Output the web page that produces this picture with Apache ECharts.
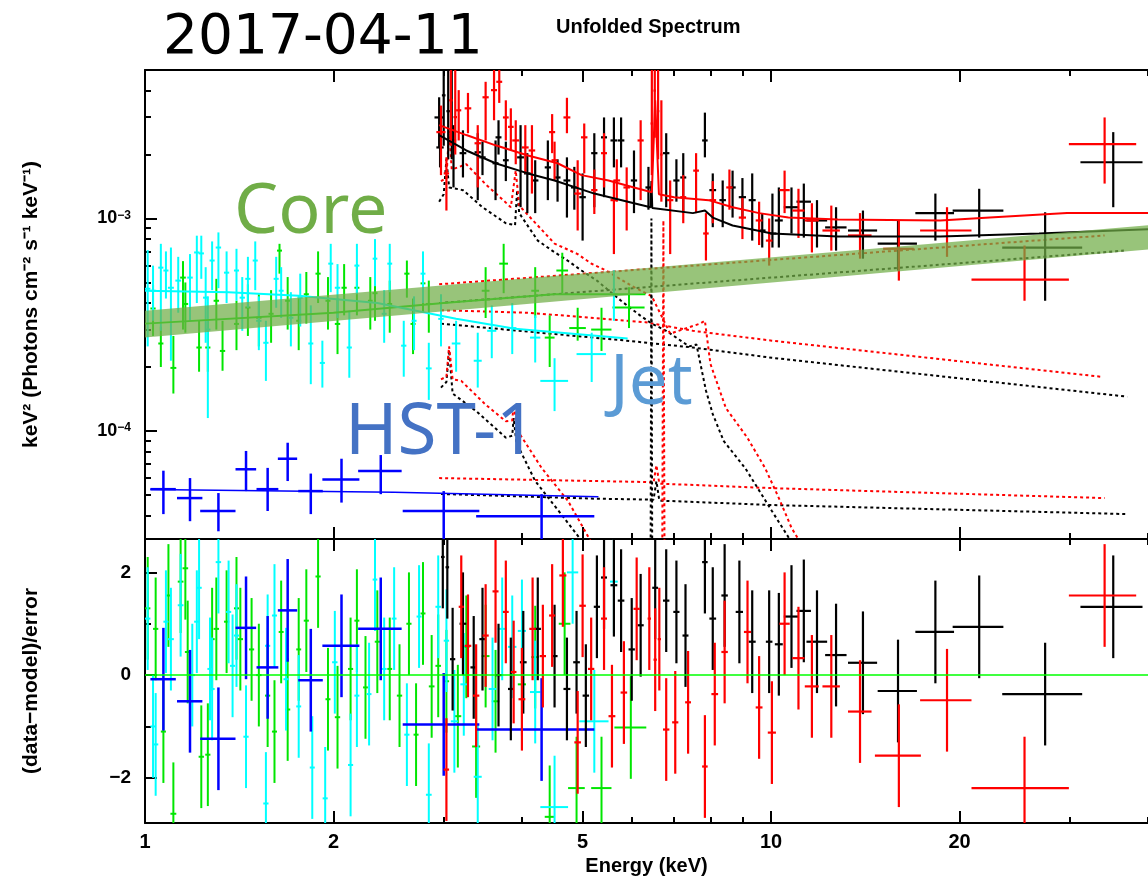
<!DOCTYPE html>
<html>
<head>
<meta charset="utf-8">
<script src="https://cdn.jsdelivr.net/npm/echarts@6/dist/echarts.min.js"></script>
<style>
html, body { margin: 0; padding: 0; background: #fff; }
#chart { width: 1148px; height: 877px; }
</style>
</head>
<body>
<div id="chart"></div>
<script>
// tick positions
var xMajor = [1, 2, 5, 10, 20];
var xMinor = [3, 4, 6, 7, 8, 9, 30, 40];
var yMajor = [1e-4, 1e-3];
var yMinor = [4e-5, 5e-5, 6e-5, 7e-5, 8e-5, 9e-5, 2e-4, 3e-4, 4e-4, 5e-4, 6e-4, 7e-4, 8e-4, 9e-4, 2e-3, 3e-3, 4e-3, 5e-3];
var resMajor = [-2, 0, 2];
var resMinor = [-1, 1];

// unfolded spectra: [E, dE, flux, fluxLo, fluxHi]
var blackSpec = [
    [2.95,0.05,2.99e-3,2.16e-3,3.72e-3],[2.96,0.04,2.16e-3,1.74e-3,2.6e-3],[3.0,0.02,3.8e-3,2.2e-3,6e-3],
    [3.05,0.02,3.2e-3,1.9e-3,6e-3],[3.09,0.02,2.6e-3,1.9e-3,5.5e-3],[3.11,0.03,2.33e-3,1.4e-3,2.75e-3],
    [3.22,0.04,2.03e-3,1.56e-3,2.6e-3],[3.40,0.04,2.05e-3,1.22e-3,2.52e-3],[3.46,0.04,1.94e-3,1.6e-3,2.3e-3],
    [3.63,0.04,1.82e-3,1.22e-3,2.33e-3],[3.67,0.04,2.41e-3,2.0e-3,2.9e-3],[3.77,0.04,1.88e-3,1.5e-3,2.3e-3],
    [3.98,0.05,1.94e-3,1.13e-3,2.75e-3],[4.08,0.05,1.63e-3,1.06e-3,2.03e-3],[4.20,0.05,1.51e-3,1.06e-3,1.88e-3],
    [4.40,0.05,1.74e-3,1.22e-3,2.33e-3],[4.56,0.05,1.56e-3,1.2e-3,1.9e-3],[4.72,0.06,1.51e-3,1.01e-3,1.94e-3],
    [4.85,0.06,1.40e-3,1.1e-3,1.75e-3],[5.00,0.06,1.26e-3,7.87e-4,1.63e-3],[5.22,0.06,2.03e-3,1.13e-3,2.52e-3],
    [5.41,0.06,2.41e-3,1.26e-3,2.99e-3],[5.61,0.07,2.33e-3,1.74e-3,2.99e-3],[5.76,0.07,2.33e-3,1.74e-3,2.99e-3],
    [6.04,0.07,1.51e-3,1.06e-3,2.09e-3],[6.37,0.07,1.40e-3,1.1e-3,1.75e-3],[6.80,0.08,2.03e-3,1.13e-3,2.52e-3],
    [7.06,0.08,1.51e-3,1.2e-3,1.9e-3],[7.24,0.08,1.56e-3,1.06e-3,2.03e-3],[7.84,0.08,2.33e-3,1.94e-3,3.15e-3],
    [8.07,0.1,1.36e-3,9.1e-4,1.63e-3],[8.37,0.1,1.22e-3,9.1e-4,1.51e-3],[8.68,0.1,1.40e-3,1.01e-3,1.68e-3],
    [9.0,0.12,1.26e-3,1.0e-3,1.55e-3],[9.33,0.12,1.22e-3,7.87e-4,1.63e-3],[9.68,0.12,8.78e-4,7.3e-4,1.06e-3],
    [10.05,0.15,8.5e-4,7.3e-4,1.31e-3],[10.29,0.15,9.79e-4,7.3e-4,1.40e-3],[10.78,0.3,1.13e-3,8.5e-4,1.40e-3],
    [11.28,0.3,1.20e-3,8.13e-4,1.46e-3],[11.84,0.45,9.79e-4,7.3e-4,1.22e-3],[12.70,0.5,9.08e-4,7.06e-4,1.13e-3],
    [14.02,0.75,8.78e-4,6.47e-4,1.09e-3],[15.95,1.15,7.62e-4,5.69e-4,9.79e-4],[18.3,1.3,1.06e-3,7.87e-4,1.31e-3],
    [21.5,2.0,1.09e-3,8.13e-4,1.38e-3],[27.4,4.0,7.3e-4,4.1e-4,1.07e-3],[35.2,4.0,1.84e-3,1.13e-3,2.55e-3]
];
var redSpec = [
    [2.97,0.05,2.55e-3,1.6e-3,3.4e-3],[3.03,0.03,1.63e-3,1.09e-3,1.94e-3],[3.08,0.02,3.6e-3,2.2e-3,6e-3],
    [3.13,0.02,3.0e-3,2.0e-3,6e-3],[3.17,0.03,3.23e-3,2.33e-3,4.02e-3],[3.28,0.04,3.3e-3,2.52e-3,3.9e-3],
    [3.40,0.04,2.26e-3,1.4e-3,2.75e-3],[3.50,0.04,3.72e-3,2.33e-3,4.4e-3],[3.61,0.04,4.02e-3,2.9e-3,5.2e-3],
    [3.68,0.04,4.4e-3,3.5e-3,5.5e-3],[3.77,0.04,2.99e-3,2.33e-3,3.6e-3],[3.84,0.04,2.7e-3,2.1e-3,3.3e-3],
    [3.91,0.05,2.33e-3,1.8e-3,2.9e-3],[4.05,0.05,2.16e-3,1.63e-3,2.75e-3],[4.15,0.05,2.09e-3,1.31e-3,2.75e-3],
    [4.47,0.05,2.55e-3,2.03e-3,3.1e-3],[4.51,0.05,1.88e-3,1.5e-3,2.3e-3],[4.72,0.06,2.99e-3,2.52e-3,3.7e-3],
    [4.91,0.06,1.31e-3,8.78e-4,1.88e-3],[5.03,0.06,2.41e-3,1.63e-3,2.8e-3],[5.22,0.06,1.36e-3,1.05e-3,1.7e-3],
    [5.41,0.06,2.03e-3,1.4e-3,2.52e-3],[5.61,0.07,1.22e-3,6.8e-4,1.51e-3],[5.67,0.07,1.51e-3,1.2e-3,1.9e-3],
    [5.88,0.07,1.40e-3,8.78e-4,1.74e-3],[6.19,0.07,2.33e-3,1.22e-3,2.9e-3],[6.45,0.03,2.8e-3,1.6e-3,6e-3],
    [6.52,0.03,4.0e-3,2.4e-3,6e-3],[6.60,0.03,3.2e-3,1.9e-3,6e-3],[6.68,0.03,2.0e-3,1.2e-3,3.6e-3],
    [6.90,0.08,1.22e-3,6.8e-4,1.51e-3],[7.24,0.08,1.26e-3,9.5e-4,1.6e-3],[7.59,0.08,1.68e-3,1.06e-3,2.03e-3],
    [7.87,0.08,8.5e-4,6.34e-4,1.06e-3],[8.07,0.1,1.22e-3,9.5e-4,1.5e-3],[8.58,0.1,1.40e-3,1.1e-3,1.7e-3],
    [9.0,0.12,1.01e-3,8.0e-4,1.25e-3],[9.57,0.12,9.79e-4,7.5e-4,1.2e-3],[9.93,0.12,7.87e-4,6.0e-4,1.0e-3],
    [10.51,0.2,1.36e-3,1.06e-3,1.68e-3],[11.06,0.25,1.09e-3,8.1e-4,1.38e-3],[11.62,0.3,9.79e-4,6.92e-4,1.18e-3],
    [12.48,0.4,8.78e-4,7.06e-4,1.15e-3],[13.87,0.6,8.32e-4,6.47e-4,1.06e-3],[16.0,0.9,7.2e-4,5.1e-4,9.8e-4],
    [19.1,1.8,8.78e-4,6.6e-4,1.13e-3],[25.4,4.5,5.15e-4,4.1e-4,7.46e-4],[34.1,4.2,2.24e-3,1.46e-3,2.99e-3]
];
var cyanSpec = [
    [1.01,0.01,4.67e-4,2.5e-4,7.1e-4],[1.03,0.01,4.57e-4,3.3e-4,6.0e-4],[1.06,0.01,5.87e-4,2.96e-4,7.6e-4],
    [1.08,0.01,5.69e-4,4.2e-4,7.0e-4],[1.10,0.012,4.72e-4,2.14e-4,7.3e-4],[1.13,0.012,5.1e-4,3.6e-4,6.6e-4],
    [1.18,0.012,5.27e-4,3.3e-4,6.8e-4],[1.21,0.012,6.92e-4,4.0e-4,8.3e-4],[1.23,0.012,6.85e-4,5.2e-4,8.3e-4],
    [1.25,0.012,4.24e-4,2.6e-4,5.9e-4],[1.26,0.012,3.0e-4,1.15e-4,4.3e-4],[1.28,0.012,6.34e-4,4.6e-4,7.8e-4],
    [1.31,0.013,7.3e-4,4.7e-4,8.6e-4],[1.35,0.013,5.56e-4,4.0e-4,7.0e-4],[1.40,0.013,5.69e-4,4.1e-4,7.2e-4],
    [1.43,0.014,4.24e-4,2.96e-4,5.3e-4],[1.46,0.014,5.2e-4,3.8e-4,6.6e-4],[1.50,0.014,6.34e-4,4.6e-4,7.8e-4],
    [1.52,0.015,3.3e-4,2.4e-4,4.3e-4],[1.56,0.015,2.6e-4,1.72e-4,3.3e-4],[1.62,0.015,5.2e-4,3.8e-4,6.6e-4],
    [1.65,0.015,4.57e-4,3.4e-4,5.9e-4],[1.71,0.016,3.41e-4,2.5e-4,4.5e-4],[1.77,0.016,4.24e-4,3.1e-4,5.5e-4],
    [1.84,0.017,2.58e-4,1.66e-4,3.9e-4],[1.92,0.018,2.09e-4,1.6e-4,2.66e-4],[1.98,0.018,6.13e-4,4.5e-4,7.6e-4],
    [2.03,0.02,4.72e-4,3.4e-4,6.1e-4],[2.12,0.02,2.47e-4,1.78e-4,3.68e-4],[2.18,0.02,6.0e-4,4.4e-4,7.6e-4],
    [2.33,0.02,6.47e-4,4.8e-4,8.0e-4],[2.41,0.022,3.56e-4,2.6e-4,4.6e-4],[2.46,0.022,6.13e-4,4.5e-4,7.6e-4],
    [2.59,0.025,2.52e-4,1.8e-4,3.3e-4],[2.69,0.025,3.3e-4,2.4e-4,4.3e-4],[2.78,0.025,5.5e-4,4.0e-4,7.0e-4],
    [2.84,0.03,1.97e-4,1.4e-4,2.6e-4],[2.97,0.03,3.37e-4,2.5e-4,4.4e-4],[3.14,0.05,2.58e-4,1.9e-4,3.3e-4],
    [3.40,0.05,2.14e-4,1.6e-4,2.9e-4],[3.58,0.06,2.96e-4,2.2e-4,3.9e-4],[3.86,0.06,3.05e-4,2.3e-4,4.0e-4],
    [4.20,0.08,2.75e-4,2.1e-4,3.5e-4],[4.51,0.23,1.72e-4,1.24e-4,2.2e-4],[5.17,0.28,2.3e-4,1.7e-4,2.9e-4],
    [5.61,0.08,4.4e-4,3.3e-4,5.7e-4]
];
var greenSpec = [
    [1.03,0.01,3.77e-4,2.8e-4,4.9e-4],[1.06,0.01,2.58e-4,2.0e-4,3.1e-4],[1.11,0.012,1.98e-4,1.5e-4,2.8e-4],
    [1.15,0.012,5.27e-4,3.0e-4,6.3e-4],[1.16,0.012,3.96e-4,2.9e-4,5.0e-4],[1.22,0.012,2.47e-4,1.9e-4,3.3e-4],
    [1.26,0.012,2.47e-4,1.9e-4,3.3e-4],[1.30,0.013,4.1e-4,3.0e-4,5.2e-4],[1.33,0.013,2.38e-4,1.92e-4,3.3e-4],
    [1.40,0.013,3.19e-4,2.4e-4,4.1e-4],[1.46,0.014,3.81e-4,2.8e-4,4.9e-4],[1.52,0.015,3.41e-4,2.5e-4,4.4e-4],
    [1.59,0.015,3.56e-4,2.6e-4,4.6e-4],[1.64,0.015,7.06e-4,5.5e-4,7.6e-4],[1.69,0.016,4.1e-4,3.0e-4,5.3e-4],
    [1.76,0.016,3.3e-4,2.4e-4,4.3e-4],[1.81,0.017,4.4e-4,3.2e-4,5.6e-4],[1.89,0.018,5.5e-4,4.0e-4,7.0e-4],
    [1.96,0.018,4.1e-4,3.0e-4,5.3e-4],[2.03,0.02,3.19e-4,2.3e-4,4.2e-4],[2.08,0.02,4.72e-4,3.5e-4,6.1e-4],
    [2.18,0.02,4.72e-4,3.5e-4,6.1e-4],[2.29,0.02,4.1e-4,3.0e-4,5.3e-4],[2.33,0.022,4.45e-4,3.3e-4,5.7e-4],
    [2.46,0.022,3.96e-4,2.9e-4,5.1e-4],[2.62,0.025,5.5e-4,4.24e-4,6.34e-4],[2.68,0.025,3.19e-4,2.3e-4,4.2e-4],
    [2.78,0.025,4.95e-4,3.6e-4,6.3e-4],[2.84,0.03,3.96e-4,2.9e-4,5.1e-4],[3.50,0.05,4.57e-4,3.4e-4,5.9e-4],
    [3.74,0.06,6.13e-4,4.45e-4,7.6e-4],[4.20,0.06,4.57e-4,3.4e-4,5.9e-4],[4.43,0.08,2.75e-4,2.0e-4,3.5e-4],
    [4.64,0.1,5.69e-4,4.45e-4,6.9e-4],[4.91,0.15,3.05e-4,2.66e-4,3.8e-4],[5.36,0.2,3.0e-4,2.38e-4,3.8e-4],
    [5.93,0.35,3.81e-4,3.05e-4,4.75e-4]
];
var blueSpec = [
    [1.07,0.05,5.32e-5,4.06e-5,6.5e-5],[1.18,0.055,4.83e-5,3.76e-5,6.0e-5],[1.31,0.085,4.2e-5,3.37e-5,5.1e-5],
    [1.45,0.055,6.6e-5,5.21e-5,8.05e-5],[1.57,0.063,5.32e-5,4.2e-5,6.7e-5],[1.69,0.06,7.4e-5,5.81e-5,8.8e-5],
    [1.84,0.083,5.21e-5,4.06e-5,6.3e-5],[2.06,0.14,5.9e-5,4.6e-5,7.4e-5],[2.38,0.19,6.48e-5,5.04e-5,7.7e-5],
    [3.0,0.42,4.2e-5,3.0e-5,5.21e-5],[4.3,0.92,3.97e-5,3.0e-5,5.04e-5]
];

// folded models: [E, flux]
var blackModel = [[2.95,2.47e-3],[3.26,2.09e-3],[3.63,1.82e-3],[4.09,1.63e-3],[4.51,1.51e-3],[5.22,1.31e-3],
    [6.04,1.18e-3],[6.42,1.13e-3],[6.44,1.5e-3],[6.46,1.12e-3],[7.5,1.06e-3],[7.84,1.09e-3],[8.07,1.01e-3],
    [8.68,9.27e-4],[10.03,8.5e-4],[12.79,8.22e-4],[18.63,8.22e-4],[26.79,8.5e-4],[40,8.9e-4]];
var redModel = [[2.95,2.75e-3],[3.26,2.47e-3],[3.63,2.21e-3],[4.09,1.98e-3],[4.56,1.82e-3],[4.98,1.6e-3],
    [5.5,1.51e-3],[6.04,1.4e-3],[6.45,1.33e-3],[6.53,3.6e-3],[6.62,1.3e-3],[7.0,1.26e-3],[7.95,1.22e-3],
    [8.68,1.13e-3],[9.57,1.06e-3],[10.66,1.01e-3],[12.79,9.9e-4],[18.63,9.79e-4],[22.35,1.01e-3],[29.7,1.06e-3],[40,1.06e-3]];
var cyanModel = [[1.0,4.57e-4],[1.36,4.5e-4],[1.76,4.33e-4],[2.35,4.0e-4],[3.14,3.37e-4],[3.9,3.03e-4],[5.9,2.72e-4]];
var greenModel = [[1.0,3.2e-4],[2.0,3.6e-4],[3.0,4.0e-4],[4.5,4.4e-4],[6.3,4.4e-4]];
var blueModel = [[1.02,5.3e-5],[2.5,5.15e-5],[5.3,4.9e-5]];

// model components (dotted)
var thermalBlack = [[2.95,1.2e-3],[3.0,1.3e-3],[3.03,1.9e-3],[3.06,1.4e-3],[3.22,1.36e-3],[3.46,1.13e-3],
    [3.77,9.5e-4],[3.9,9.3e-4],[3.93,1.36e-3],[3.96,1.06e-3],[4.24,7.87e-4],[4.47,7.06e-4],[4.73,6.34e-4],
    [4.98,5.69e-4],[5.27,5.1e-4],[5.76,4.1e-4],[6.19,3.48e-4],[6.45,3.2e-4],[6.8,2.96e-4],[7.4,2.5e-4],
    [7.6,2.55e-4],[7.87,1.55e-4],[8.07,1.2e-4],[8.4,8.97e-5],[9.1,6.66e-5],[10.03,4.2e-5],[10.78,3.0e-5],[11.2,2.5e-5]];
var thermalRed = [[2.97,1.5e-3],[3.03,1.55e-3],[3.06,2.6e-3],[3.09,1.7e-3],[3.26,1.8e-3],[3.5,1.45e-3],
    [3.84,1.13e-3],[3.91,1.68e-3],[3.96,1.15e-3],[4.51,7.62e-4],[4.91,6.8e-4],[5.16,6.14e-4],[5.45,5.69e-4],
    [6.0,4.8e-4],[6.45,4.3e-4],[6.9,2.87e-4],[7.7,3.2e-4],[7.84,3.3e-4],[8.0,2.07e-4],[8.47,1.28e-4],
    [9.17,9.27e-5],[9.79,6.66e-5],[10.29,4.83e-5],[10.78,3.5e-5],[11.2,2.9e-5],[11.6,2.5e-5]];
var softBlack = [[2.97,1.6e-4],[3.03,1.7e-4],[3.06,2.4e-4],[3.1,1.5e-4],[3.38,1.24e-4],[3.77,9.3e-5],
    [3.86,9.5e-5],[3.88,1.15e-4],[3.92,8.8e-5],[4.2,5.81e-5],[4.62,4.06e-5],[5.0,3.0e-5],[5.2,2.6e-5]];
var softRed = [[2.97,1.75e-4],[3.03,1.8e-4],[3.06,2.5e-4],[3.1,1.75e-4],[3.2,1.72e-4],[3.5,1.33e-4],
    [3.77,1.11e-4],[3.86,1.12e-4],[3.88,1.33e-4],[3.94,1.0e-4],[4.3,6.7e-5],[4.74,4.68e-5],[5.16,3.0e-5],[5.35,2.6e-5]];
var jetBlack = [[2.97,3.2e-4],[5.88,2.66e-4],[7.5,2.47e-4],[10.03,2.21e-4],[37.05,1.45e-4]];
var jetRed = [[2.97,3.7e-4],[4.1,3.6e-4],[6.3,3.25e-4],[7.5,2.96e-4],[10.03,2.66e-4],[33.6,1.8e-4]];
var coreBlack = [[2.95,4.0e-4],[36.6,7.06e-4]];
var coreRed = [[2.95,4.9e-4],[34.1,8.32e-4]];
var flatBlack = [[2.97,5.05e-5],[5.22,4.8e-5],[6.49,4.75e-5],[6.56,5.8e-5],[6.63,4.7e-5],[10.03,4.48e-5],[37.05,4.06e-5]];
var flatRed = [[2.95,6.0e-5],[6.3,5.75e-5],[6.49,5.7e-5],[6.56,6.9e-5],[6.63,5.65e-5],[10.03,5.38e-5],[34.1,4.83e-5]];
var gaussBlack = [[6.42,2e-5],[6.44,1.0e-3],[6.46,2e-5]];
var gaussRed = [[6.70,2e-5],[6.73,9.8e-4],[6.76,2e-5]];

// core power-law band: [E, lower, upper]
var coreBand = [[1, 2.75e-4, 3.68e-4], [40, 7.15e-4, 9.3e-4]];

// residuals: [E, dE, (data-model)/error]
var blackRes = [
    [2.99,0.02,2.3],[3.04,0.02,2.1],[3.10,0.03,0.31],[3.22,0.04,1.0],[3.35,0.04,0.15],[3.46,0.04,0.7],
    [3.67,0.04,0.0],[3.84,0.04,-0.27],[4.02,0.05,0.25],[4.24,0.05,0.9],[4.51,0.05,0.37],[4.72,0.06,-0.27],
    [4.89,0.06,0.25],[5.06,0.06,-0.4],[5.27,0.06,1.33],[5.41,0.06,1.9],[5.61,0.07,1.75],[5.76,0.07,1.45],
    [5.99,0.07,0.5],[6.19,0.07,0.97],[6.53,0.07,1.7],[6.80,0.08,1.45],[7.06,0.08,1.23],[7.30,0.08,0.77],
    [7.84,0.08,2.2],[8.07,0.1,1.1],[8.43,0.1,1.55],[8.9,0.12,1.23],[9.33,0.12,0.65],[9.93,0.12,0.65],
    [10.29,0.15,0.6],[10.78,0.3,1.14],[11.28,0.3,1.25],[11.84,0.45,0.65],[12.70,0.5,0.39],[14.02,0.75,0.24],
    [15.95,1.15,-0.31],[18.3,1.3,0.84],[21.5,2.0,0.94],[27.4,4.0,-0.37],[35.2,4.0,1.33]
];
var redRes = [
    [3.03,0.03,-1.84],[3.20,0.03,1.33],[3.28,0.04,0.57],[3.38,0.04,-0.4],[3.50,0.04,0.77],[3.63,0.04,1.63],
    [3.77,0.04,1.23],[3.88,0.04,0.06],[4.0,0.05,-0.47],[4.16,0.05,0.9],[4.32,0.05,0.37],[4.47,0.05,1.16],
    [4.65,0.06,1.94],[4.91,0.06,-1.31],[5.0,0.06,1.35],[5.16,0.06,0.12],[5.41,0.06,1.1],[5.57,0.07,-0.8],
    [5.82,0.07,-0.34],[6.10,0.07,1.29],[6.39,0.04,1.1],[6.53,0.04,0.3],[6.63,0.04,0.7],[6.80,0.08,-1.06],
    [7.03,0.08,-0.92],[7.37,0.08,-0.53],[7.84,0.08,-1.78],[8.13,0.1,-0.37],[8.43,0.1,0.45],[9.17,0.12,0.84],
    [9.57,0.12,-0.63],[10.03,0.15,-1.12],[10.51,0.2,1.0],[11.06,0.25,0.33],[11.62,0.3,-0.22],[12.48,0.4,-0.22],
    [13.87,0.6,-0.71],[16.0,1.35,-1.57],[19.1,1.8,-0.49],[25.4,4.5,-2.2],[34.1,4.2,1.55]
];
var cyanRes = [
    [1.01,0.01,1.1],[1.03,0.01,-1.0],[1.04,0.01,-1.35],[1.08,0.01,1.04],[1.10,0.012,0.7],[1.14,0.012,1.36],
    [1.19,0.012,0.0],[1.21,0.012,1.04],[1.22,0.012,1.7],[1.27,0.012,0.12],[1.28,0.012,-0.27],[1.31,0.013,2.2],
    [1.36,0.013,1.23],[1.38,0.013,0.18],[1.40,0.013,0.77],[1.45,0.014,-1.2],[1.56,0.015,-2.5],[1.57,0.015,0.57],
    [1.61,0.015,1.16],[1.68,0.016,-0.08],[1.76,0.016,-0.61],[1.85,0.017,-1.8],[1.94,0.018,-2.4],[2.01,0.02,0.25],
    [2.13,0.02,-1.75],[2.18,0.02,-0.4],[2.28,0.02,-0.37],[2.33,0.02,1.86],[2.41,0.022,0.12],[2.50,0.022,1.1],
    [2.62,0.025,-1.16],[2.74,0.025,1.14],[2.84,0.03,-2.33],[2.94,0.03,1.33],[3.03,0.03,0.67],[3.12,0.04,-0.9],
    [3.23,0.04,-0.18],[3.40,0.05,-1.98],[3.59,0.05,-0.27],[3.72,0.06,0.9],[3.86,0.06,0.55],[4.0,0.06,0.86],
    [4.2,0.08,-0.33],[4.51,0.23,-2.57],[4.82,0.1,2.0],[5.22,0.28,-0.9],[5.61,0.08,1.82]
];
var greenRes = [
    [1.01,0.01,1.3],[1.04,0.01,0.9],[1.07,0.01,-1.1],[1.09,0.01,1.55],[1.11,0.012,-2.7],[1.14,0.012,1.82],
    [1.16,0.012,2.08],[1.17,0.012,0.45],[1.23,0.012,-1.59],[1.26,0.012,-1.55],[1.28,0.012,0.7],[1.30,0.013,0.9],
    [1.35,0.013,1.04],[1.40,0.013,1.3],[1.42,0.014,0.7],[1.48,0.014,0.5],[1.52,0.015,0.0],[1.57,0.015,-0.4],
    [1.61,0.015,-1.1],[1.65,0.015,0.84],[1.69,0.016,-0.67],[1.76,0.016,0.5],[1.81,0.017,1.06],[1.89,0.018,1.92],
    [1.96,0.018,-0.47],[2.03,0.02,-0.82],[2.13,0.02,0.12],[2.18,0.02,1.06],[2.25,0.02,-0.24],[2.35,0.022,0.65],
    [2.46,0.022,0.12],[2.55,0.025,-0.4],[2.64,0.025,1.0],[2.71,0.025,-1.16],[2.78,0.025,1.2],[2.87,0.03,-0.22],
    [2.94,0.03,0.18],[3.03,0.03,-0.12],[3.16,0.04,-0.8],[3.26,0.04,0.55],[3.38,0.05,-1.39],[3.50,0.05,0.37],
    [3.63,0.05,-0.51],[4.0,0.06,-0.18],[4.2,0.06,0.35],[4.43,0.08,-2.76],[4.68,0.1,1.0],[4.89,0.15,-2.2],
    [5.36,0.2,-2.2],[5.97,0.35,-1.02]
];
var blueRes = [
    [1.07,0.05,-0.08],[1.18,0.055,-0.51],[1.31,0.085,-1.24],[1.45,0.055,0.92],[1.57,0.063,0.15],
    [1.69,0.06,1.26],[1.84,0.083,-0.1],[2.06,0.14,0.57],[2.38,0.19,0.9],[3.0,0.42,-0.96],[4.3,0.92,-1.06]
];
var zeroLine = [[1, 0], [40, 0]];

var dom = document.getElementById('chart');
var myChart = echarts.init(dom, null, { renderer: 'canvas' });

var crossRender = function (color, width, resid) {
    return function (params, api) {
        var cs = params.coordSys;
        var e = api.value(0), de = api.value(1), v = api.value(2);
        var lo = resid ? v - 1 : api.value(3);
        var hi = resid ? v + 1 : api.value(4);
        var left = api.coord([e - de, v]);
        var right = api.coord([e + de, v]);
        var bot = api.coord([e, lo]);
        var top = api.coord([e, hi]);
        var y0 = cs.y, y1 = cs.y + cs.height;
        var cy = function (y) { return Math.max(y0, Math.min(y1, y)); };
        var kids = [];
        var yt = cy(top[1]), yb = cy(bot[1]);
        if (yb > yt) {
            kids.push({ type: 'line', shape: { x1: top[0], y1: yt, x2: top[0], y2: yb },
                style: { stroke: color, lineWidth: width } });
        }
        if (left[1] >= y0 && left[1] <= y1) {
            kids.push({ type: 'line', shape: { x1: Math.max(cs.x, left[0]), y1: left[1], x2: right[0], y2: right[1] },
                style: { stroke: color, lineWidth: width } });
        }
        return { type: 'group', children: kids };
    };
};

var crosses = function (data, color, width, grid, resid) {
    return {
        type: 'custom',
        data: data,
        xAxisIndex: grid === 0 ? 0 : 4,
        yAxisIndex: grid === 0 ? 0 : 2,
        encode: { x: 0, y: 2 },
        renderItem: crossRender(color, width, resid),
        silent: true,
        z: 3
    };
};

var curve = function (data, color, width, dash, z) {
    return {
        type: 'line',
        data: data,
        xAxisIndex: 0,
        yAxisIndex: 0,
        showSymbol: false,
        symbol: 'none',
        silent: true,
        clip: true,
        lineStyle: { color: color, width: width, type: dash || 'solid' },
        z: z
    };
};

var tickStyle = { color: '#000', width: 2 };

var xAx = function (grid, pos, ticks, len, withLabels) {
    var ax = {
        type: 'log',
        logBase: 10,
        gridIndex: grid,
        min: 1,
        max: 40,
        position: pos,
        axisLine: { show: len > 8, onZero: false, lineStyle: tickStyle },
        axisTick: { show: true, inside: true, length: len, customValues: ticks, lineStyle: tickStyle },
        axisLabel: { show: false },
        splitLine: { show: false }
    };
    if (withLabels) {
        ax.axisLabel = {
            show: true, customValues: xMajor, margin: 9, fontSize: 20,
            fontFamily: 'Liberation Sans', fontWeight: 'bold', color: '#000',
            formatter: function (v) { return String(Math.round(v)); }
        };
        ax.name = 'Energy (keV)';
        ax.nameLocation = 'middle';
        ax.nameGap = 33;
        ax.nameTextStyle = { fontFamily: 'Liberation Sans', fontWeight: 'bold', fontSize: 20, color: '#000' };
    }
    return ax;
};

option = {
    backgroundColor: '#fff',
    animation: false,
    grid: [
        { left: 145, top: 70, width: 1016, height: 469 },
        { left: 145, top: 539, width: 1016, height: 284 }
    ],
    xAxis: [
        xAx(0, 'bottom', xMajor, 12, false),
        xAx(0, 'bottom', xMinor, 6, false),
        xAx(0, 'top', xMajor, 12, false),
        xAx(0, 'top', xMinor, 6, false),
        xAx(1, 'bottom', xMajor, 12, true),
        xAx(1, 'bottom', xMinor, 6, false),
        xAx(1, 'top', xMajor, 12, false),
        xAx(1, 'top', xMinor, 6, false)
    ],
    yAxis: [
        {
            type: 'log', logBase: 10, gridIndex: 0, min: 3.1e-5, max: 5e-3, position: 'left',
            name: 'keV\u00b2 (Photons cm\u207b\u00b2 s\u207b\u00b9 keV\u207b\u00b9)',
            nameLocation: 'middle', nameGap: 103, nameRotate: 90,
            nameTextStyle: { fontFamily: 'Liberation Sans', fontWeight: 'bold', fontSize: 21, color: '#000' },
            axisLine: { show: true, lineStyle: tickStyle },
            axisTick: { show: true, inside: true, length: 12, customValues: yMajor, lineStyle: tickStyle },
            axisLabel: {
                show: true, customValues: yMajor, margin: 14,
                formatter: function (v) {
                    return '{b|10}{s|' + String(Math.round(Math.log10(v))).replace('-', '\u2212') + '}';
                },
                rich: {
                    b: { fontSize: 18, fontFamily: 'Liberation Sans', fontWeight: 'bold', color: '#000' },
                    s: { fontSize: 12, fontFamily: 'Liberation Sans', fontWeight: 'bold', color: '#000', verticalAlign: 'top' }
                }
            },
            splitLine: { show: false }
        },
        {
            type: 'log', logBase: 10, gridIndex: 0, min: 3.1e-5, max: 5e-3, position: 'left',
            axisLine: { show: false },
            axisTick: { show: true, inside: true, length: 6, customValues: yMinor, lineStyle: tickStyle },
            axisLabel: { show: false },
            splitLine: { show: false }
        },
        {
            type: 'value', gridIndex: 1, min: -2.88, max: 2.65, position: 'left',
            name: '(data\u2212model)/error',
            nameLocation: 'middle', nameGap: 103, nameRotate: 90,
            nameTextStyle: { fontFamily: 'Liberation Sans', fontWeight: 'bold', fontSize: 21, color: '#000' },
            axisLine: { show: true, lineStyle: tickStyle },
            axisTick: { show: true, inside: true, length: 12, customValues: resMajor, lineStyle: tickStyle },
            axisLabel: {
                show: true, customValues: resMajor, margin: 14, fontSize: 19,
                fontFamily: 'Liberation Sans', fontWeight: 'bold', color: '#000',
                formatter: function (v) { return String(v).replace('-', '\u2212'); }
            },
            splitLine: { show: false }
        },
        {
            type: 'value', gridIndex: 1, min: -2.88, max: 2.65, position: 'left',
            axisLine: { show: false },
            axisTick: { show: true, inside: true, length: 6, customValues: resMinor, lineStyle: tickStyle },
            axisLabel: { show: false },
            splitLine: { show: false }
        }
    ],
    graphic: [
        { type: 'text', left: 163, top: 11, z: 100,
          style: { text: '2017-04-11', font: '55px "DejaVu Sans"', fill: '#000' } },
        { type: 'text', left: 556, top: 17, z: 100,
          style: { text: 'Unfolded Spectrum', font: 'bold 20px "Liberation Sans"', fill: '#000' } },
        { type: 'text', left: 234, top: 178, z: 100,
          style: { text: 'Core', font: '70px "Noto Sans"', fill: '#70ad47' } },
        { type: 'text', left: 345, top: 398, z: 100,
          style: { text: 'HST-1', font: '71px "Noto Sans"', fill: '#4472c4' } },
        { type: 'text', left: 610, top: 350, z: 100,
          style: { text: 'Jet', font: '69px "Noto Sans"', fill: '#5b9bd5' } }
    ],
    series: [
        curve(coreBlack, '#000', 2, [3, 3], 2),
        curve(coreRed, '#ff0000', 2, [3, 3], 2),
        curve(jetBlack, '#000', 2, [3, 3], 2),
        curve(jetRed, '#ff0000', 2, [3, 3], 2),
        curve(flatBlack, '#000', 2, [3, 3], 2),
        curve(flatRed, '#ff0000', 2, [3, 3], 2),
        curve(thermalBlack, '#000', 2, [3, 3], 2),
        curve(thermalRed, '#ff0000', 2, [3, 3], 2),
        curve(softBlack, '#000', 2, [3, 3], 2),
        curve(softRed, '#ff0000', 2, [3, 3], 2),
        curve(gaussBlack, '#000', 2, [3, 3], 2),
        curve(gaussRed, '#ff0000', 2, [3, 3], 2),
        crosses(greenSpec, '#00e600', 2, 0, false),
        crosses(cyanSpec, '#00ffff', 2, 0, false),
        crosses(blueSpec, '#0000ff', 2.5, 0, false),
        crosses(blackSpec, '#000', 2.2, 0, false),
        crosses(redSpec, '#ff0000', 2.2, 0, false),
        curve(greenModel, '#00e600', 2, 'solid', 4),
        curve(cyanModel, '#00ffff', 2, 'solid', 4),
        curve(blueModel, '#0000ff', 1.5, 'solid', 4),
        curve(blackModel, '#000', 2, 'solid', 4),
        curve(redModel, '#ff0000', 2, 'solid', 4),
        {
            type: 'custom',
            data: coreBand,
            xAxisIndex: 0,
            yAxisIndex: 0,
            encode: { x: 0, y: 1 },
            silent: true,
            z: 6,
            renderItem: function (params, api) {
                var i = params.dataIndex;
                if (i >= coreBand.length - 1) return { type: 'group', children: [] };
                var a = coreBand[i], b = coreBand[i + 1];
                var pts = [api.coord([a[0], a[1]]), api.coord([b[0], b[1]]),
                           api.coord([b[0], b[2]]), api.coord([a[0], a[2]])];
                return { type: 'polygon', shape: { points: pts }, style: { fill: 'rgba(112,173,71,0.72)' } };
            }
        },
        crosses(greenRes, '#00e600', 2, 1, true),
        crosses(cyanRes, '#00ffff', 2, 1, true),
        crosses(blueRes, '#0000ff', 2.5, 1, true),
        crosses(blackRes, '#000', 2.2, 1, true),
        crosses(redRes, '#ff0000', 2.2, 1, true),
        {
            type: 'line',
            data: zeroLine,
            xAxisIndex: 4,
            yAxisIndex: 2,
            showSymbol: false,
            symbol: 'none',
            silent: true,
            lineStyle: { color: '#00ff00', width: 1.5 },
            z: 5
        }
    ]
};

if (option && typeof option === 'object') {
    myChart.setOption(option, true);
}
</script>
</body>
</html>
